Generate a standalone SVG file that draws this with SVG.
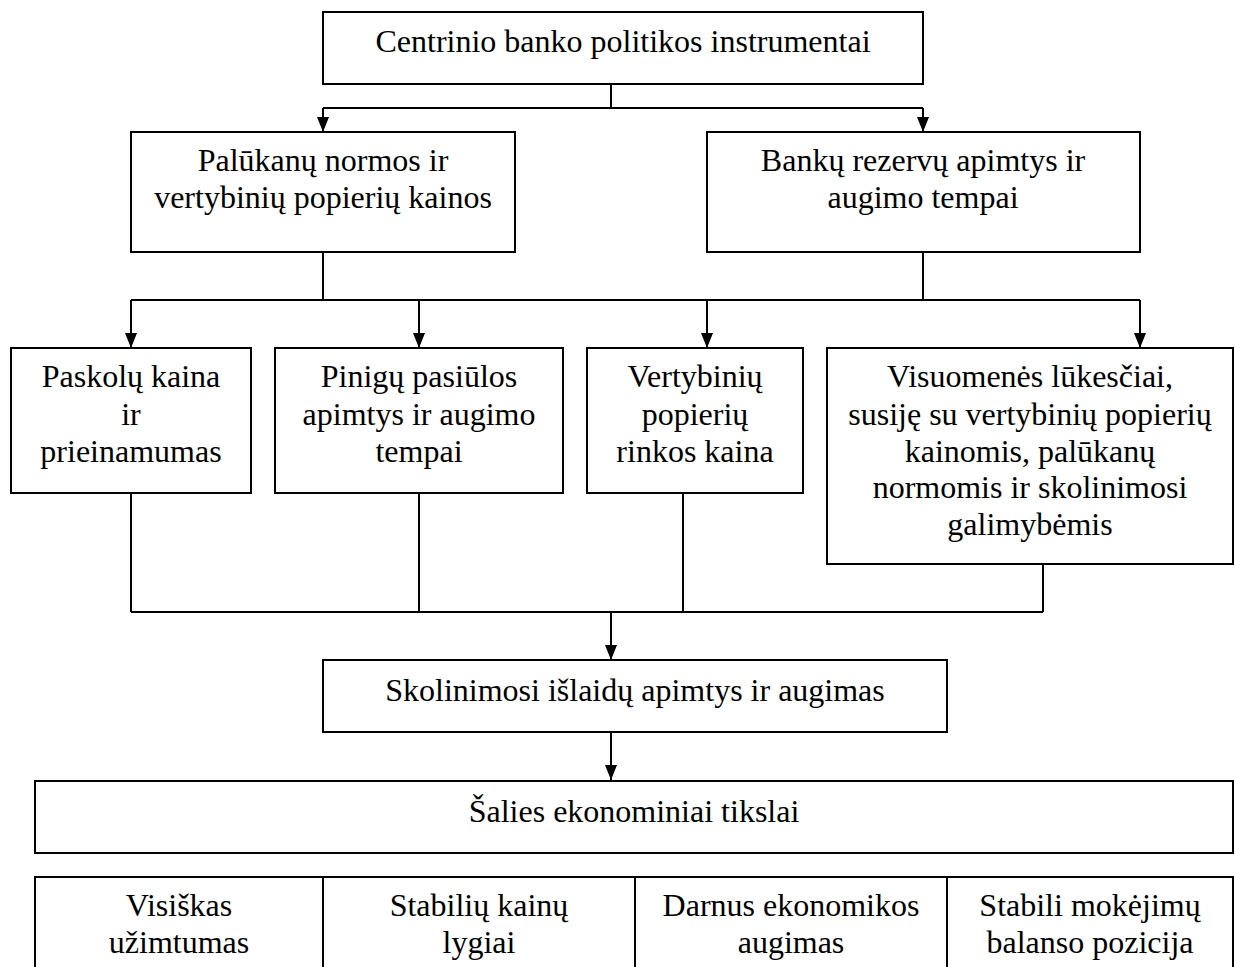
<svg xmlns="http://www.w3.org/2000/svg" width="1235" height="967" viewBox="0 0 1235 967">
<style>
.box{fill:#fff;stroke:#000;stroke-width:2}
.ln{fill:none;stroke:#000;stroke-width:2}
text{font-family:"Liberation Serif","Times New Roman",serif;font-size:32px;fill:#000;text-anchor:middle}
</style>
<defs>
<marker id="arr" viewBox="0 0 15 12" refX="15" refY="6" markerWidth="15" markerHeight="12" markerUnits="userSpaceOnUse" orient="auto">
<path d="M0,0 L15,6 L0,12 z" fill="#000"/>
</marker>
</defs>
<rect width="1235" height="967" fill="#fff"/>
<g id="connectors">
<path class="ln" d="M611,84 V108 M323,108 H923"/>
<path class="ln" d="M323,108 V132" marker-end="url(#arr)"/>
<path class="ln" d="M923,108 V132" marker-end="url(#arr)"/>
<path class="ln" d="M323,252 V300 M923,252 V300 M131,300 H1140"/>
<path class="ln" d="M131,300 V348" marker-end="url(#arr)"/>
<path class="ln" d="M419,300 V348" marker-end="url(#arr)"/>
<path class="ln" d="M707,300 V348" marker-end="url(#arr)"/>
<path class="ln" d="M1140,300 V348" marker-end="url(#arr)"/>
<path class="ln" d="M131,493 V612 M419,493 V612 M683,493 V612 M1043,564 V612 M131,612 H1043"/>
<path class="ln" d="M611,612 V660" marker-end="url(#arr)"/>
<path class="ln" d="M611,732 V780" marker-end="url(#arr)"/>
</g>
<g id="n-top">
<rect class="box" x="323" y="12" width="600" height="72"/>
<text x="623" y="52">Centrinio banko politikos instrumentai</text>
</g>
<g id="n-palukanu">
<rect class="box" x="131" y="132" width="384" height="120"/>
<text x="323" y="171">Palūkanų normos ir</text>
<text x="323" y="208">vertybinių popierių kainos</text>
</g>
<g id="n-bankurez">
<rect class="box" x="707" y="132" width="433" height="120"/>
<text x="923" y="171">Bankų rezervų apimtys ir</text>
<text x="923" y="208">augimo tempai</text>
</g>
<g id="n-paskolu">
<rect class="box" x="11" y="348" width="240" height="145"/>
<text x="131" y="387">Paskolų kaina</text>
<text x="131" y="425">ir</text>
<text x="131" y="462">prieinamumas</text>
</g>
<g id="n-pinigu">
<rect class="box" x="275" y="348" width="288" height="145"/>
<text x="419" y="387">Pinigų pasiūlos</text>
<text x="419" y="425">apimtys ir augimo</text>
<text x="419" y="462">tempai</text>
</g>
<g id="n-vertybiniu">
<rect class="box" x="587" y="348" width="216" height="145"/>
<text x="695" y="387">Vertybinių</text>
<text x="695" y="425">popierių</text>
<text x="695" y="462">rinkos kaina</text>
</g>
<g id="n-visuomenes">
<rect class="box" x="827" y="348" width="406" height="216"/>
<text x="1030" y="387">Visuomenės lūkesčiai,</text>
<text x="1030" y="425">susiję su vertybinių popierių</text>
<text x="1030" y="462">kainomis, palūkanų</text>
<text x="1030" y="498">normomis ir skolinimosi</text>
<text x="1030" y="535">galimybėmis</text>
</g>
<g id="n-skolinimosi">
<rect class="box" x="323" y="660" width="624" height="72"/>
<text x="635" y="701">Skolinimosi išlaidų apimtys ir augimas</text>
</g>
<g id="n-salies">
<rect class="box" x="35" y="781" width="1198" height="72"/>
<text x="634" y="822">Šalies ekonominiai tikslai</text>
</g>
<g id="n-tikslai">
<rect class="box" x="35" y="877" width="1198" height="120"/>
<path class="ln" d="M323,877 V967 M635,877 V967 M947,877 V967"/>
<text x="179" y="916">Visiškas</text>
<text x="179" y="953">užimtumas</text>
<text x="479" y="916">Stabilių kainų</text>
<text x="479" y="953">lygiai</text>
<text x="791" y="916">Darnus ekonomikos</text>
<text x="791" y="953">augimas</text>
<text x="1090" y="916">Stabili mokėjimų</text>
<text x="1090" y="953">balanso pozicija</text>
</g>
</svg>
